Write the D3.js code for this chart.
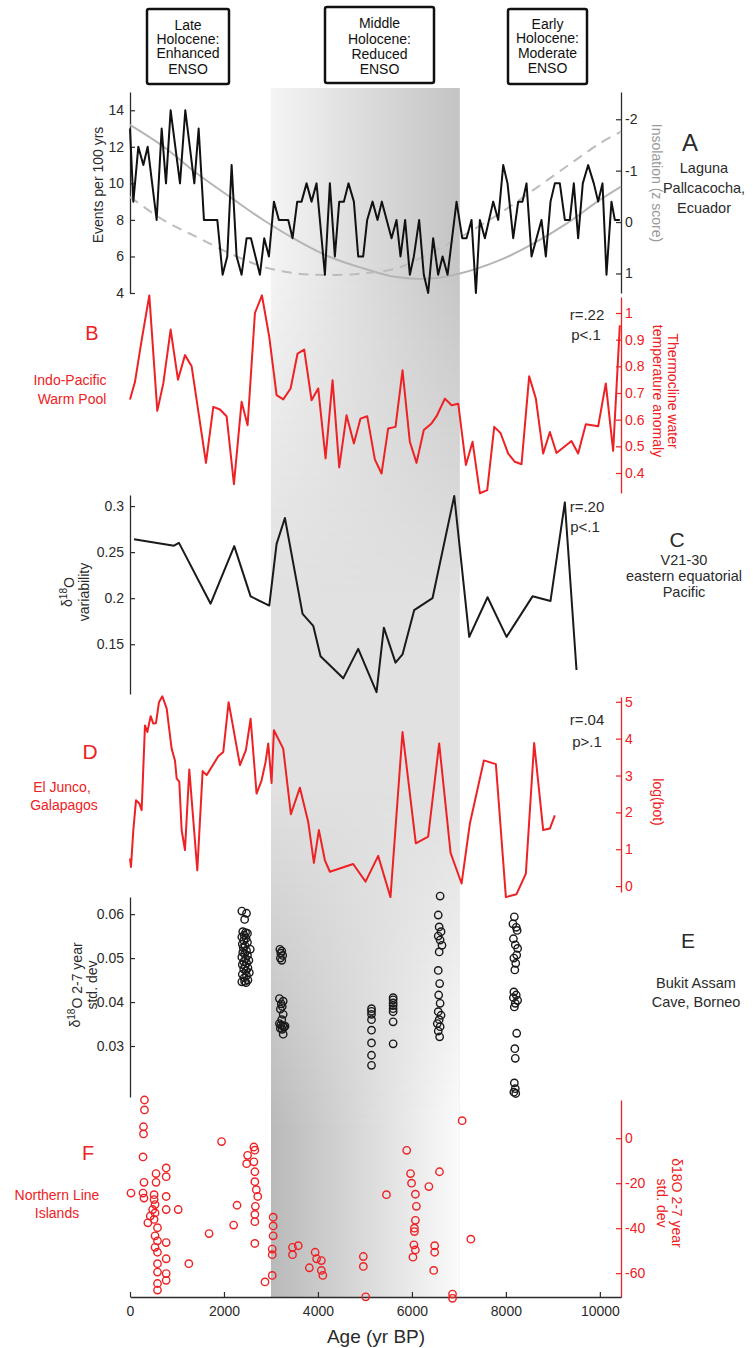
<!DOCTYPE html>
<html>
<head>
<meta charset="utf-8">
<script src="https://cdn.jsdelivr.net/npm/d3@7"></script>
<style>
  body { margin: 0; background: #fff; }
  svg { font-family: "Liberation Sans", Arial, Helvetica, sans-serif; }
</style>
</head>
<body>
<div id="chart"></div>
<script>
// ---------- data ----------
const ageDomain = [0, 10450];
const ageTicks = [0, 2000, 4000, 6000, 8000, 10000];
const midHolocene = [3000, 7020];

// A: Laguna Pallcacocha events per 100 yrs
const aAge = [0, 71, 177, 284, 376, 567, 674, 766, 865, 1064, 1177, 1369, 1461, 1574, 1858, 1971, 2070, 2163, 2269, 2375,
  2482, 2574, 2765, 2857, 2957, 3063, 3169, 3368, 3460, 3559, 3651, 3758, 3864, 3970, 4148, 4254, 4360, 4453, 4552, 4651,
  4765, 4857, 4963, 5048, 5162, 5268, 5360, 5566, 5672, 5757, 5856, 5956, 6041, 6154, 6253, 6346, 6452, 6558, 6653, 6759,
  6950, 7071, 7163, 7269, 7362, 7447, 7553, 7730, 7837, 7943, 8035, 8156, 8262, 8354, 8439, 8546, 8652, 8758, 8850, 8950,
  9042, 9148, 9255, 9361, 9446, 9538, 9637, 9751, 9871, 9964, 10056, 10141, 10247, 10318, 10425];
const aEvents = [13, 9, 12, 11, 12, 8, 13, 10, 14, 10, 14, 10, 13, 8, 8, 5, 6, 11, 6, 5,
  7, 7, 5, 7, 6, 9, 8, 8, 7, 9, 9, 10, 9, 10, 5, 10, 6, 9, 9, 10,
  9, 6, 6, 8, 9, 8, 9, 7, 8, 6, 8, 5, 6, 8, 5, 4, 7, 5, 6, 5,
  9, 7, 7, 8, 4, 8, 7, 9, 8, 11, 10, 7, 9, 9, 10, 6, 7, 8, 6, 9,
  10, 10, 8, 8, 10, 7, 10, 11, 10, 9, 10, 5, 9, 8, 8];
const aTicks = [4, 6, 8, 10, 12, 14];

// A: insolation (z score, reversed axis)
const insAge = [0, 709, 1418, 2127, 2836, 3545, 4254, 4963, 5672, 6381, 7021, 7872, 8581, 9290, 9999, 10450];
const insSolid = [-1.89, -1.47, -0.95, -0.49, -0.04, 0.35, 0.68, 0.90, 1.07, 1.10, 1.00, 0.74, 0.42, 0.03, -0.43, -0.69];
const insDashed = [-0.49, -0.04, 0.29, 0.61, 0.87, 1.00, 1.03, 1.00, 0.90, 0.61, 0.30, -0.17, -0.62, -1.08, -1.53, -1.76];
const insTicks = [-2, -1, 0, 1];

// B: Indo-Pacific Warm Pool thermocline temperature anomaly
const bAge = [0, 106, 248, 411, 581, 709, 865, 1021, 1170, 1312, 1617, 1773, 1914, 2056, 2212, 2375, 2503, 2659, 2808, 2964,
  3120, 3262, 3418, 3566, 3708, 3864, 4006, 4162, 4311, 4453, 4609, 4765, 4906, 5048, 5211, 5353, 5495, 5651, 5800, 5956,
  6098, 6253, 6417, 6525, 6702, 6844, 6986, 7149, 7291, 7447, 7603, 7752, 7886, 8049, 8191, 8333, 8496, 8638, 8794, 8936,
  9077, 9396, 9538, 9701, 9964, 10126, 10283, 10425];
const bTemp = [0.676, 0.742, 0.898, 1.066, 0.633, 0.736, 0.938, 0.75, 0.842, 0.80, 0.438, 0.648, 0.638, 0.613, 0.358, 0.667, 0.579, 1.0, 1.066, 0.91,
  0.692, 0.676, 0.717, 0.848, 0.863, 0.673, 0.717, 0.455, 0.748, 0.421, 0.617, 0.511, 0.604, 0.613, 0.451, 0.398, 0.567, 0.573, 0.785, 0.517,
  0.438, 0.561, 0.586, 0.613, 0.679, 0.654, 0.66, 0.43, 0.517, 0.324, 0.336, 0.573, 0.55, 0.473, 0.442, 0.433, 0.763, 0.679, 0.473, 0.554,
  0.475, 0.52, 0.473, 0.583, 0.575, 0.736, 0.483, 0.954];
const bTicks = [0.4, 0.5, 0.6, 0.7, 0.8, 0.9, 1];

// C: V21-30 d18O variability
const cAge = [85, 936, 1042, 1716, 2219, 2567, 2964, 3120, 3297, 3673, 3900, 4055, 4538, 4857, 5247, 5403, 5651, 5800,
  6048, 6438, 6901, 7220, 7610, 8014, 8567, 8950, 9255, 9503];
const cVar = [0.264, 0.257, 0.260, 0.194, 0.2565, 0.202, 0.192, 0.259, 0.287, 0.183, 0.170, 0.137, 0.113, 0.145, 0.098, 0.168, 0.130, 0.139,
  0.187, 0.200, 0.311, 0.158, 0.201, 0.158, 0.202, 0.197, 0.304, 0.122];
const cTicks = [0.15, 0.2, 0.25, 0.3];

// D: El Junco log(bot)
const dAge = [0, 21, 71, 128, 199, 248, 319, 369, 440, 496, 553, 617, 688, 780, 886, 957, 993, 1049, 1099, 1170,
  1262, 1432, 1546, 1631, 1879, 1985, 2099, 2340, 2467, 2567, 2694, 2801, 2886, 2942, 3013, 3063, 3261, 3424, 3616, 3793,
  3914, 4020, 4148, 4254, 4750, 5013, 5282, 5544, 5800, 6083, 6346, 6580, 6823, 7057, 7234, 7532, 7787, 8000, 8227, 8425,
  8602, 8794, 8936, 9042];
const dBot = [0.75, 0.52, 1.52, 2.33, 2.24, 2.06, 4.36, 4.18, 4.61, 4.41, 4.42, 4.99, 5.15, 4.82, 3.73, 3.41, 2.92, 2.83, 1.52, 0.98,
  3.16, 0.43, 3.12, 3.01, 3.52, 3.64, 4.99, 3.28, 3.69, 4.54, 2.51, 2.87, 3.37, 3.87, 2.8, 4.23, 3.73, 1.95, 2.67, 1.74,
  0.63, 1.52, 0.70, 0.39, 0.60, 0.12, 0.82, -0.3, 4.18, 1.16, 1.34, 3.87, 0.9, 0.07, 1.7, 3.41, 3.31, -0.3, -0.22, 0.34,
  3.88, 1.52, 1.56, 1.92];
const dTicks = [0, 1, 2, 3, 4, 5];

// E: Bukit Assam d18O 2-7 yr std dev
const eAge = [2380, 2480, 2440, 2400, 2460, 2500, 2430, 2380, 2470, 2420, 2500, 2390, 2450, 2410, 2560, 2480, 2400, 2440, 2500,
  2380, 2460, 2530, 2420, 2480, 2390, 2450, 2510, 2420, 2470, 2540, 2390, 2480, 2430, 2510, 2380, 2470, 2440,
  3190, 3230, 3210, 3250, 3200, 3230, 3180, 3260, 3220, 3240, 3200, 3260, 3230, 3180, 3210, 3250, 3280, 3200, 3240, 3300, 3260,
  5140, 5140, 5140, 5140, 5140, 5140, 5140, 5140,
  5600, 5600, 5600, 5600, 5600, 5600, 5600, 5600,
  6600, 6560, 6580, 6620, 6560, 6600, 6640, 6580, 6560, 6590, 6570, 6600, 6560, 6620, 6580, 6540, 6600, 6560, 6590,
  8180, 8150, 8220, 8240, 8160, 8200, 8250, 8230, 8170, 8210, 8190, 8170, 8220, 8160, 8250, 8200, 8180, 8230, 8190, 8200, 8180, 8200, 8170, 8210];
const eStd = [0.0607, 0.0602, 0.0588, 0.0560, 0.0558, 0.0556, 0.0552, 0.0548, 0.0545, 0.0540, 0.0536, 0.0532, 0.0528, 0.0524, 0.0520, 0.0517, 0.0513, 0.0510, 0.0506,
  0.0502, 0.0498, 0.0495, 0.0492, 0.0489, 0.0485, 0.0482, 0.0478, 0.0475, 0.0471, 0.0467, 0.0463, 0.0460, 0.0455, 0.0450, 0.0446, 0.0444, 0.0447,
  0.0520, 0.0516, 0.0511, 0.0506, 0.0500, 0.0495, 0.0408, 0.0402, 0.0396, 0.0390, 0.0384, 0.0372, 0.0360, 0.0351, 0.0348, 0.0346, 0.0343, 0.0340, 0.0338, 0.0345, 0.0327,
  0.0385, 0.0379, 0.0372, 0.0360, 0.0336, 0.0307, 0.0279, 0.0256,
  0.0410, 0.0405, 0.0398, 0.0392, 0.0385, 0.0378, 0.0355, 0.0305,
  0.0641, 0.0598, 0.0571, 0.0560, 0.0550, 0.0541, 0.0529, 0.0514, 0.0472, 0.0442, 0.0416, 0.0397, 0.0378, 0.0370, 0.0360, 0.0351, 0.0344, 0.0334, 0.0321,
  0.0594, 0.0578, 0.0570, 0.0563, 0.0544, 0.0530, 0.0522, 0.0507, 0.0500, 0.0488, 0.0473, 0.0423, 0.0416, 0.0410, 0.0404, 0.0397, 0.0389, 0.0329, 0.0294, 0.0272, 0.0216, 0.0203, 0.0195, 0.0192];
const eTicks = [0.03, 0.04, 0.05, 0.06];

// F: Northern Line Islands d18O 2-7 yr std dev
const fAge = [308, 308, 287, 287, 277, 298, 21, 277, 298, 554, 554, 513, 513, 533, 482, 533, 431, 513, 380, 585,
  533, 585, 533, 585, 585, 585, 585, 585, 770, 770, 770, 770, 770, 770, 770, 770, 1026, 1252, 1683, 1949,
  2206, 2278, 2503, 2483, 2637, 2657, 2637, 2657, 2657, 2688, 2719, 2668, 2657, 2657, 2657, 2873, 3027, 3047, 3047, 3047,
  3027, 3027, 3458, 3581, 3458, 3817, 3940, 3971, 4073, 4073, 4104, 4966, 4966, 5017, 5458, 5889, 5971, 5992, 6074, 6095,
  6074, 6053, 6053, 6043, 6074, 6022, 6361, 6587, 6484, 6484, 6464, 6864, 6864, 7069, 7254];
const fStd = [17, 12.6, 5.1, 1.9, -8.3, -19.6, -24.4, -24.4, -26.6, -15.7, -19.6, -25.1, -27.3, -29.5, -31.7, -33.2, -34.6, -36.1, -37.6, -39.8,
  -43.4, -45.6, -48.5, -50.7, -55.8, -59.5, -64.6, -67.5, -13.2, -17.1, -25.9, -31.7, -46.4, -53.6, -60.2, -63.2, -31.7, -55.8, -42.4, -1.5,
  -38.6, -29.8, -7.6, -11.3, -3.9, -5.3, -10.5, -14.9, -19.3, -22.9, -25.9, -30.3, -33.9, -37.1, -46.8, -63.9, -61, -35.1, -39, -43.4,
  -49.3, -51.8, -48.5, -47.8, -51.8, -57.6, -50.7, -53.6, -54.4, -58.8, -61, -52.6, -57, -70.5, -25.1, -5.4, -15.7, -20, -24.9, -30.3,
  -36.5, -40, -41.5, -47.4, -49.7, -52.9, -21.5, -14.9, -47.8, -50.7, -58.8, -69.3, -71.2, 7.8, -44.9];
const fTicks = [-60, -40, -20, 0];

const phaseBoxes = [
  ["Late", "Holocene:", "Enhanced", "ENSO"],
  ["Middle", "Holocene:", "Reduced", "ENSO"],
  ["Early", "Holocene:", "Moderate", "ENSO"]
];

// ---------- drawing ----------
const RED = "#ee2124";
const INK = "#2b2b2b";

const svg = d3.select("#chart").append("svg")
  .attr("width", 753)
  .attr("height", 1348);

const x = d3.scaleLinear().domain(ageDomain).range([130, 621]);

const yA = d3.scaleLinear().domain([4, 15]).range([293, 92]);
const yIns = d3.scaleLinear().domain([-2.53, 1.38]).range([92, 293]);
const yB = d3.scaleLinear().domain([0.325, 1.06]).range([493, 297]);
const yC = d3.scaleLinear().domain([0.096, 0.312]).range([694, 495]);
const yD = d3.scaleLinear().domain([-0.16, 5.13]).range([892, 697]);
const yE = d3.scaleLinear().domain([0.0184, 0.0639]).range([1097, 897]);
const yF = d3.scaleLinear().domain([-70.6, 17]).range([1297, 1100]);

// shaded middle Holocene band
const defs = svg.append("defs");
function gradient(id, horizontal, stops) {
  const g = defs.append("linearGradient").attr("id", id)
    .attr("x1", 0).attr("y1", 0)
    .attr("x2", horizontal ? 1 : 0).attr("y2", horizontal ? 0 : 1);
  stops.forEach(([o, c]) => g.append("stop").attr("offset", o).attr("stop-color", c));
}
gradient("shadeTop", true, [[0, "#f4f4f4"], [1, "#c4c4c4"]]);
gradient("shadeBot", true, [[0, "#b9b9b9"], [1, "#fbfbfb"]]);
gradient("fadeTop", false, [[0, "#fff"], [0.14, "#fff"], [0.42, "#000"]]);
gradient("fadeBot", false, [[0.58, "#000"], [0.86, "#fff"], [1, "#fff"]]);

const shadeX = x(midHolocene[0]);
const shadeW = x(midHolocene[1]) - shadeX;
const shadeTop = 88, shadeH = 1297 - 88;

["fadeTop", "fadeBot"].forEach((id) => {
  defs.append("mask").attr("id", "m" + id)
    .append("rect")
    .attr("x", shadeX).attr("y", shadeTop)
    .attr("width", shadeW).attr("height", shadeH)
    .attr("fill", `url(#${id})`);
});

const shade = svg.append("g");
shade.append("rect")
  .attr("x", shadeX).attr("y", shadeTop)
  .attr("width", shadeW).attr("height", shadeH)
  .attr("fill", "#e1e1e1");
shade.append("rect")
  .attr("x", shadeX).attr("y", shadeTop)
  .attr("width", shadeW).attr("height", shadeH)
  .attr("fill", "url(#shadeTop)")
  .attr("mask", "url(#mfadeTop)");
shade.append("rect")
  .attr("x", shadeX).attr("y", shadeTop)
  .attr("width", shadeW).attr("height", shadeH)
  .attr("fill", "url(#shadeBot)")
  .attr("mask", "url(#mfadeBot)");

// axes
function styleAxis(g, color) {
  g.selectAll("path.domain").attr("stroke", color).attr("stroke-width", 1.3);
  g.selectAll(".tick line").attr("stroke", color).attr("stroke-width", 1.2);
  g.selectAll(".tick text")
    .attr("fill", color)
    .attr("font-size", 14)
    .attr("font-family", "Liberation Sans, Arial, sans-serif");
}

function leftAxis(scale, ticks, fmt) {
  const g = svg.append("g").attr("transform", "translate(130,0)")
    .call(d3.axisLeft(scale).tickValues(ticks).tickFormat(fmt)
      .tickSizeInner(-5).tickSizeOuter(0).tickPadding(6));
  styleAxis(g, INK);
}

function rightAxis(scale, ticks, fmt, color) {
  const g = svg.append("g").attr("transform", "translate(621,0)")
    .call(d3.axisRight(scale).tickValues(ticks).tickFormat(fmt)
      .tickSizeInner(-5).tickSizeOuter(0).tickPadding(4));
  styleAxis(g, color);
}

const plain = (d) => String(d);

leftAxis(yA, aTicks, plain);
rightAxis(yIns, insTicks, plain, INK);
rightAxis(yB, bTicks, plain, RED);
leftAxis(yC, cTicks, plain);
rightAxis(yD, dTicks, plain, RED);
leftAxis(yE, eTicks, plain);
rightAxis(yF, fTicks, plain, RED);

const xAxis = svg.append("g").attr("transform", "translate(0,1297)")
  .call(d3.axisBottom(x).tickValues(ageTicks).tickFormat(plain)
    .tickSizeInner(-5).tickSizeOuter(0).tickPadding(9));
styleAxis(xAxis, INK);
xAxis.selectAll(".tick text").attr("font-size", 14);

// series
function drawLine(ages, vals, y, color, width, dash, curve) {
  const pts = ages.map((a, i) => [a, vals[i]]);
  const line = d3.line()
    .x((d) => x(d[0]))
    .y((d) => y(d[1]))
    .curve(curve || d3.curveLinear);
  svg.append("path")
    .datum(pts)
    .attr("d", line)
    .attr("fill", "none")
    .attr("stroke", color)
    .attr("stroke-width", width)
    .attr("stroke-linejoin", "round")
    .attr("stroke-dasharray", dash || null);
}

function drawRings(ages, vals, y, color) {
  svg.append("g")
    .selectAll("circle")
    .data(ages.map((a, i) => [a, vals[i]]))
    .join("circle")
    .attr("cx", (d) => x(d[0]))
    .attr("cy", (d) => y(d[1]))
    .attr("r", 3.7)
    .attr("fill", "none")
    .attr("stroke", color)
    .attr("stroke-width", 1.4);
}

drawLine(insAge, insSolid, yIns, "#b5b5b5", 2, null, d3.curveCatmullRom);
drawLine(insAge, insDashed, yIns, "#bcbcbc", 2, "10,7", d3.curveCatmullRom);
drawLine(aAge, aEvents, yA, "#111", 2);
drawLine(bAge, bTemp, yB, RED, 2);
drawLine(cAge, cVar, yC, "#1a1a1a", 2);
drawLine(dAge, dBot, yD, RED, 2);
drawRings(eAge, eStd, yE, "#1a1a1a");
drawRings(fAge, fStd, yF, RED);

// text helpers
function text(xp, yp, str, size, color, anchor) {
  return svg.append("text")
    .attr("x", xp).attr("y", yp)
    .attr("font-size", size)
    .attr("fill", color)
    .attr("text-anchor", anchor || "middle")
    .text(str);
}

function addLine(el, str) {
  // "d18O" style superscript marker: ^18
  const parts = str.split("^18");
  if (parts.length === 1) {
    el.text(str);
    return;
  }
  el.append("tspan").text(parts[0]);
  el.append("tspan").attr("font-size", "0.72em").attr("dy", "-0.45em").text("18");
  el.append("tspan").attr("dy", "0.45em").text(parts[1]);
}

function rotated(xp, yp, angle, lines, size, color, gap) {
  const t = svg.append("text")
    .attr("transform", `translate(${xp},${yp}) rotate(${angle})`)
    .attr("font-size", size)
    .attr("fill", color)
    .attr("text-anchor", "middle");
  lines.forEach((ln, i) => {
    const ts = t.append("tspan").attr("x", 0).attr("y", i * gap);
    addLine(ts, ln);
  });
}

// axis titles
rotated(103, 185, -90, ["Events per 100 yrs"], 14, INK, 0);
rotated(652, 183, 90, ["Insolation (z score)"], 14, "#9a9a9a", 0);
rotated(668, 391, 90, ["Thermocline water", "temperature anomaly"], 14, RED, 15);
rotated(72, 592, -90, ["\u03b4^18O", "variability"], 14, INK, 17);
rotated(653, 802, 90, ["log(bot)"], 14, RED, 0);
rotated(80, 985, -90, ["\u03b4^18O 2-7 year", "std. dev"], 14, INK, 17);
rotated(672, 1203, 90, ["\u03b418O 2-7 year", "std. dev"], 14, RED, 15);
text(376, 1343, "Age (yr BP)", 19, INK);

// panel letters and site names
text(690, 151, "A", 24, INK);
[["Laguna", 173], ["Pallcacocha,", 193], ["Ecuador", 213]].forEach(([s, yy]) => text(704, yy, s, 14.5, INK));

text(92, 340, "B", 20, RED);
text(70, 385, "Indo-Pacific", 14, RED);
text(72, 404, "Warm Pool", 14, RED);
text(587, 320, "r=.22", 15, INK);
text(586, 340, "p<.1", 15, INK);

text(677, 547, "C", 21, INK);
[["V21-30", 565], ["eastern equatorial", 581], ["Pacific", 597]].forEach(([s, yy]) => text(684, yy, s, 14.5, INK));
text(587, 512, "r=.20", 15, INK);
text(585, 532, "p<.1", 15, INK);

text(90, 759, "D", 21, RED);
text(62, 792, "El Junco,", 14, RED);
text(64, 810, "Galapagos", 14, RED);
text(587, 725, "r=.04", 15, INK);
text(587, 747, "p>.1", 15, INK);

text(688, 948, "E", 21, INK);
text(696, 988, "Bukit Assam", 14.5, INK);
text(696, 1007, "Cave, Borneo", 14.5, INK);

text(88, 1160, "F", 20, RED);
text(57, 1200, "Northern Line", 14, RED);
text(57, 1218, "Islands", 14, RED);

// phase boxes at the top
const boxGeom = [[147, 9, 82, 75], [325, 7, 109, 76], [508, 9, 79, 75]];
const boxBase = [[30, 44, 58, 74], [28, 44, 59, 74], [29, 43, 58, 73]];
phaseBoxes.forEach((lines, i) => {
  const [bx, by, bw, bh] = boxGeom[i];
  svg.append("rect")
    .attr("x", bx).attr("y", by)
    .attr("width", bw).attr("height", bh)
    .attr("rx", 2)
    .attr("fill", "#fff")
    .attr("stroke", "#111")
    .attr("stroke-width", 2.5);
  lines.forEach((ln, j) => text(bx + bw / 2, boxBase[i][j], ln, 14, "#111"));
});
</script>
</body>
</html>
